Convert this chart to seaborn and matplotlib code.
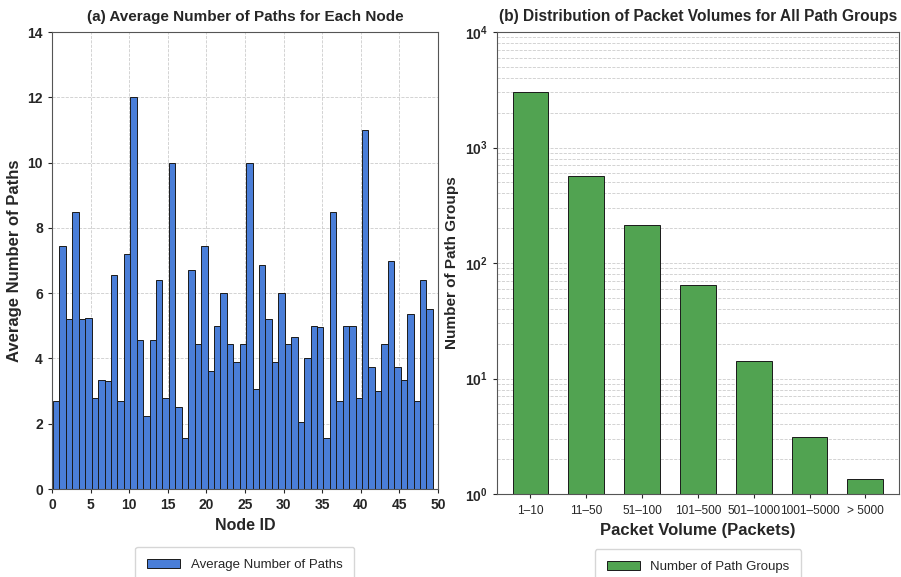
import numpy as np
import matplotlib
matplotlib.use("Agg")
import matplotlib.pyplot as plt
import seaborn as sns

# (a) average number of paths per node (59 bars)
avg_paths = [2.7, 7.45, 5.2, 8.5, 5.2, 5.25, 2.8, 3.35, 3.3, 6.55,
             2.7, 7.2, 12.0, 4.55, 2.25, 4.55, 6.4, 2.8, 10.0, 2.5,
             1.55, 6.7, 4.45, 7.45, 3.6, 5.0, 6.0, 4.45, 3.9, 4.45,
             10.0, 3.05, 6.85, 5.2, 3.9, 6.0, 4.45, 4.65, 2.05, 4.0,
             5.0, 4.95, 1.55, 8.5, 2.7, 5.0, 5.0, 2.8, 11.0, 3.75,
             3.0, 4.45, 7.0, 3.75, 3.35, 5.35, 2.7, 6.4, 5.5]
node_id = np.linspace(0.55, 48.93, len(avg_paths))

# (b) packet volume distribution
volume_bins = ["1–10", "11–50", "51–100", "101–500", "501–1000", "1001–5000", "> 5000"]
path_groups = [3020, 570, 215, 64, 14.2, 3.1, 1.35]

sns.set_style("white")
plt.rcParams["font.family"] = ["Liberation Sans", "DejaVu Sans"]

blue = "#4a7ed8"
green = "#51a351"
grid_kw = dict(color="#cccccc", linestyle="--", linewidth=0.6)

fig = plt.figure(figsize=(9.01, 5.77), dpi=100)
ax1 = fig.add_axes([0.0577, 0.1525, 0.4283, 0.792])
ax2 = fig.add_axes([0.5516, 0.1438, 0.446, 0.8007])

# left panel
sns.barplot(x=node_id, y=avg_paths, native_scale=True, width=1.0, color=blue,
            saturation=1, edgecolor="#1a1a1a", linewidth=0.7, ax=ax1)
ax1.set_xlim(0, 50)
ax1.set_ylim(0, 14)
ax1.set_xticks(range(0, 51, 5))
ax1.set_yticks(range(0, 15, 2))
ax1.grid(True, **grid_kw)
ax1.set_axisbelow(True)
ax1.set_title("(a) Average Number of Paths for Each Node", fontsize=11, fontweight="bold", pad=8)
ax1.set_xlabel("Node ID", fontsize=11.5, fontweight="bold")
ax1.set_ylabel("Average Number of Paths", fontsize=12, fontweight="bold")
ax1.legend(handles=[ax1.containers[0]], labels=["Average Number of Paths"],
           loc="upper center", bbox_to_anchor=(0.5, -0.112), fontsize=9.5,
           frameon=True, handlelength=2.5, borderpad=0.9)

# right panel
sns.barplot(x=volume_bins, y=path_groups, width=0.64, color=green, saturation=1,
            edgecolor="#1a1a1a", linewidth=0.7, ax=ax2)
ax2.set_yscale("log")
ax2.set_ylim(1, 1e4)
ax2.set_xlim(-0.6, 6.6)
ax2.yaxis.grid(True, which="both", **grid_kw)
ax2.set_axisbelow(True)
ax2.set_title("(b) Distribution of Packet Volumes for All Path Groups", fontsize=11.2, fontweight="bold", pad=8)
ax2.set_xlabel("Packet Volume (Packets)", fontsize=12, fontweight="bold")
ax2.set_ylabel("Number of Path Groups", fontsize=11, fontweight="bold")
ax2.legend(handles=[ax2.containers[0]], labels=["Number of Path Groups"],
           loc="upper center", bbox_to_anchor=(0.5, -0.105), fontsize=9.5,
           frameon=True, handlelength=2.5, borderpad=0.9)

for ax in (ax1, ax2):
    ax.tick_params(axis="both", which="major", direction="out", length=3,
                   labelsize=10, left=True, bottom=True)
    for s in ax.spines.values():
        s.set_color("#555555")
        s.set_linewidth(0.8)
for lab in ax1.get_xticklabels() + ax1.get_yticklabels() + ax2.get_yticklabels():
    lab.set_fontweight("bold")
ax2.tick_params(axis="x", labelsize=8.6, pad=5)
ax2.tick_params(axis="y", which="minor", left=False)

fig.savefig("out.png", dpi=100)
